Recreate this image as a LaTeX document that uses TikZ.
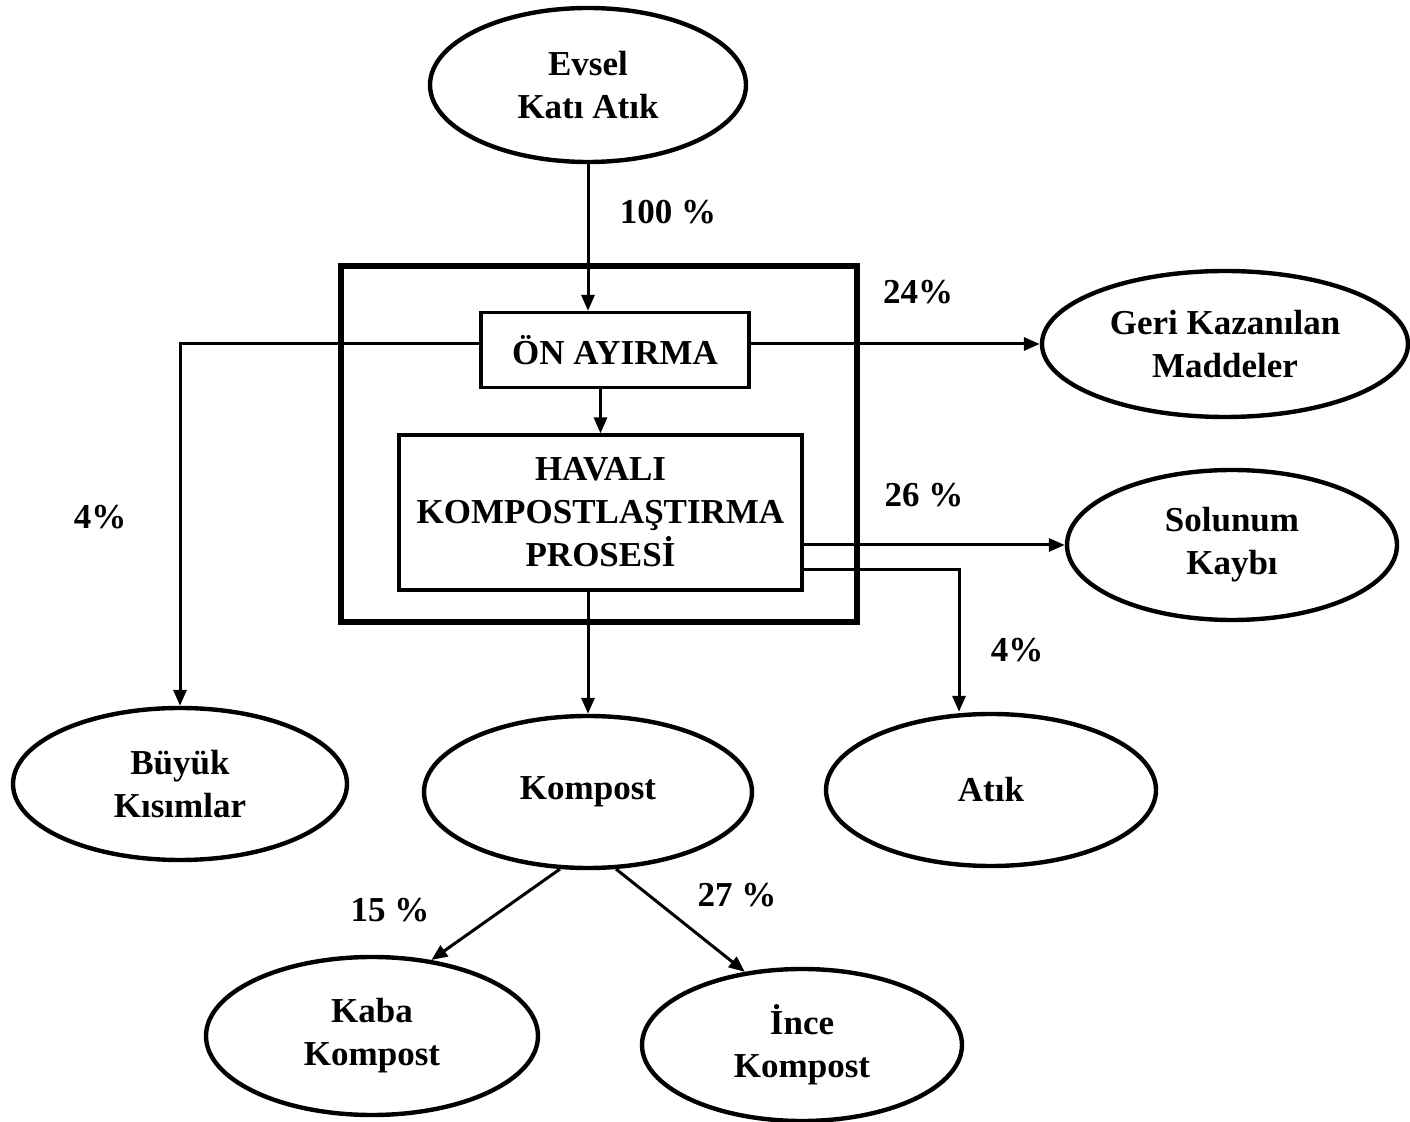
\documentclass[tikz,border=0pt]{standalone}
\usepackage{fontspec}
\setmainfont{Liberation Serif}
\usetikzlibrary{shapes.geometric,arrows.meta,calc}
\begin{document}
\begin{tikzpicture}[x=0.5pt,y=-0.5pt,
  every node/.style={font=\fontsize{17.5}{21.5}\selectfont\bfseries, align=center},
  oval/.style={ellipse, draw, line width=2.2pt, inner sep=0pt},
  procbox/.style={rectangle, draw, line width=1.6pt, inner sep=0pt},
  flow/.style={line width=1.5pt, -{Triangle[length=8pt,width=6.5pt]}},
  pct/.style={inner sep=1pt}]
\useasboundingbox (0,0) rectangle (1410,1122);

% source and outputs
\node[oval, minimum width=158pt, minimum height=77pt] (evsel) at (588,85) {Evsel\\Katı Atık};
\node[oval, minimum width=183pt, minimum height=73pt] (geri) at (1225,344) {Geri Kazanılan\\Maddeler};
\node[oval, minimum width=165pt, minimum height=75pt] (solunum) at (1232,545) {Solunum\\Kaybı};
\node[oval, minimum width=167pt, minimum height=76pt] (buyuk) at (180,784) {Büyük\\Kısımlar};
\node[oval, minimum width=164pt, minimum height=76pt] (kompost) at (588,792) {Kompost};
\node[oval, minimum width=165pt, minimum height=76pt] (atik) at (991,790) {Atık};
\node[oval, minimum width=166pt, minimum height=79pt] (kaba) at (372,1036) {Kaba\\Kompost};
\node[oval, minimum width=160pt, minimum height=76pt] (ince) at (802,1045) {İnce\\Kompost};

% plant frame with its two stages
\draw[line width=3pt] (341,266) rectangle (857,622);
\node[procbox, minimum width=134pt, minimum height=37.5pt] (on) at (615,350) {ÖN AYIRMA};
\node[procbox, minimum width=201.5pt, minimum height=77.5pt] (havali) at (600.5,512.5) {HAVALI\\KOMPOSTLAŞTIRMA\\PROSESİ};

% flows
\draw[flow] (evsel.south) -- (evsel |- on.north);
\draw[flow] (on.south -| havali) -- (havali.north);
\draw[flow] (on.west |- geri.west) -| (buyuk.north);
\draw[flow] (on.east |- geri.west) -- (geri.west);
\draw[flow] (havali.east |- solunum.west) -- (solunum.west);
\coordinate (atikturn) at (959,570);
\draw[flow] (havali.east |- atikturn) -- (atikturn) -- (atikturn |- atik.north);
\draw[flow] (havali.south -| kompost) -- (kompost.north);
\draw[flow] (kompost.250) -- (kaba.52);
\draw[flow] (kompost.290) -- (ince.128);

% shares
\node[pct] (p100) at (668,212) {100 \%};
\node[pct] (p24) at (918,292) {24\%};
\node[pct] (p4a) at (100,517) {4\%};
\node[pct] (p26) at (924,495) {26 \%};
\node[pct] (p4b) at (1017,650) {4\%};
\node[pct] (p15) at (390,910) {15 \%};
\node[pct] (p27) at (737,895) {27 \%};
\end{tikzpicture}
\end{document}
